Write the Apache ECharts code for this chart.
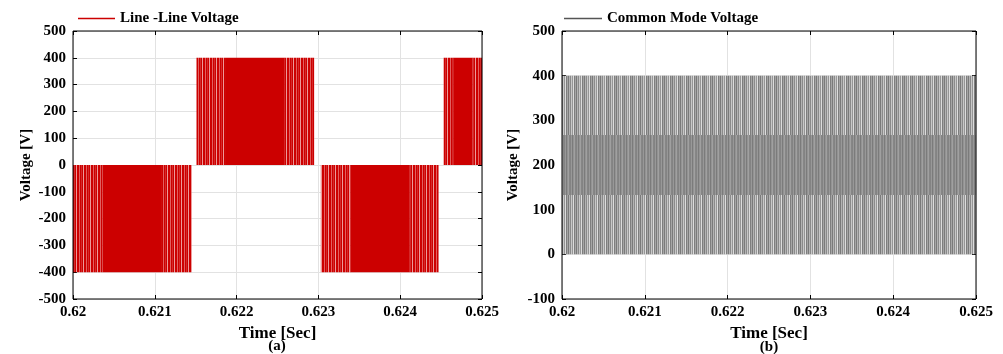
<!DOCTYPE html>
<html>
<head>
<meta charset="utf-8">
<script src="https://cdn.jsdelivr.net/npm/echarts@6/dist/echarts.min.js"></script>
<style>
  html, body { margin: 0; background: #fff; }
  #chart { width: 1003px; height: 354px; }
</style>
</head>
<body>
<div id="chart"></div>
<script>
// time axis [s]
const timeTicks = [0.62, 0.621, 0.622, 0.623, 0.624, 0.625];
const llTicks = [-500, -400, -300, -200, -100, 0, 100, 200, 300, 400, 500];
const cmTicks = [-100, 0, 100, 200, 300, 400, 500];

// (a) line-line voltage: PWM blocks, start / end time and level
const llStart = [0.62, 0.62151, 0.62303, 0.62453];
const llEnd = [0.62145, 0.62295, 0.62447, 0.625];
const llLevel = [-400, 400, -400, 400];

// (b) common mode voltage: switching levels over the whole window
const cmStart = 0.62;
const cmEnd = 0.625;
const cmLevels = [0, 133, 267, 400];

const FONT = '"Liberation Serif", "Times New Roman", serif';

// dense switching is drawn as a striped fill
function stripes(cols) {
  const c = document.createElement("canvas");
  c.width = cols.length;
  c.height = 2;
  const ctx = c.getContext("2d");
  cols.forEach((col, i) => {
    ctx.fillStyle = col;
    ctx.fillRect(i, 0, 1, 2);
  });
  return { image: c, repeat: "repeat" };
}
const redStripe = stripes(["#cc0000", "#cc0000", "#e26060", "#cc0000", "#d42a2a", "#cc0000", "#ec9a9a"]);
const grayLight = stripes(["#7a7a7a", "#b4b4b4", "#8a8a8a", "#c8c8c8", "#969696", "#dcdcdc", "#7e7e7e", "#a6a6a6"]);
const grayDark = stripes(["#838383", "#989898", "#7b7b7b", "#939393", "#a0a0a0", "#868686"]);

function rectOf(api, t0, t1, lo, hi) {
  const a = api.coord([t0, hi]);
  const b = api.coord([t1, lo]);
  return { x: a[0], y: a[1], width: b[0] - a[0], height: b[1] - a[1] };
}

function renderLL(params, api) {
  const v = api.value(2);
  const r = rectOf(api, api.value(0), api.value(1), Math.min(0, v), Math.max(0, v));
  const edge = r.width * 0.25;
  return {
    type: "group",
    children: [
      { type: "rect", shape: { x: r.x, y: r.y, width: edge, height: r.height }, style: { fill: redStripe } },
      { type: "rect", shape: { x: r.x + edge, y: r.y, width: r.width - 2 * edge, height: r.height }, style: { fill: "#cc0000" } },
      { type: "rect", shape: { x: r.x + r.width - edge, y: r.y, width: edge, height: r.height }, style: { fill: redStripe } },
    ],
  };
}

function renderCM(params, api) {
  const r = rectOf(api, api.value(0), api.value(1), api.value(2), api.value(3));
  return {
    type: "rect",
    shape: r,
    style: { fill: params.dataIndex === 1 ? grayDark : grayLight },
  };
}

const llData = llStart.map((s, i) => [s, llEnd[i], llLevel[i]]);
const cmData = cmLevels.slice(0, -1).map((lo, i) => [cmStart, cmEnd, lo, cmLevels[i + 1]]);

const labelStyle = { color: "#000", fontFamily: FONT, fontWeight: "bold", fontSize: 15 };
const tickStyle = { inside: true, length: 4, lineStyle: { color: "#000" } };
const noLine = { show: false, onZero: false };

function timeAxis(gridIndex) {
  return {
    type: "value",
    gridIndex,
    min: timeTicks[0],
    max: timeTicks[timeTicks.length - 1],
    interval: 0.001,
    name: "Time [Sec]",
    nameLocation: "middle",
    nameGap: 18,
    nameTextStyle: { color: "#000", fontFamily: FONT, fontWeight: "bold", fontSize: 17 },
    axisLine: noLine,
    axisTick: tickStyle,
    axisLabel: Object.assign({ margin: 6, formatter: (v) => String(+v.toFixed(3)) }, labelStyle),
    splitLine: { show: true, lineStyle: { color: "#e2e2e2", width: 1 } },
  };
}

function voltAxis(gridIndex, ticks, gap) {
  return {
    type: "value",
    gridIndex,
    min: ticks[0],
    max: ticks[ticks.length - 1],
    interval: 100,
    name: "Voltage [V]",
    nameLocation: "middle",
    nameGap: gap,
    nameTextStyle: { color: "#000", fontFamily: FONT, fontWeight: "bold", fontSize: 15 },
    axisLine: noLine,
    axisTick: tickStyle,
    axisLabel: Object.assign({ margin: 7 }, labelStyle),
    splitLine: { show: true, lineStyle: { color: "#e2e2e2", width: 1 } },
  };
}

// top / right sides: inward ticks only (the box is the grid border)
function frameX(gridIndex) {
  return {
    type: "value", gridIndex, position: "top",
    min: timeTicks[0], max: timeTicks[timeTicks.length - 1], interval: 0.001,
    axisLine: noLine, axisTick: tickStyle,
    axisLabel: { show: false }, splitLine: { show: false },
  };
}
function frameY(gridIndex, ticks) {
  return {
    type: "value", gridIndex, position: "right",
    min: ticks[0], max: ticks[ticks.length - 1], interval: 100,
    axisLine: noLine, axisTick: tickStyle,
    axisLabel: { show: false }, splitLine: { show: false },
  };
}

const legendText = { color: "#000", fontFamily: FONT, fontWeight: "bold", fontSize: 15 };

const chart = echarts.init(document.getElementById("chart"));

chart.setOption({
  animation: false,
  backgroundColor: "#fff",
  grid: [
    { left: 73, top: 31, width: 409, height: 268, show: true, z: 10, backgroundColor: "transparent", borderColor: "#000", borderWidth: 1 },
    { left: 562, top: 31, width: 414, height: 268, show: true, z: 10, backgroundColor: "transparent", borderColor: "#000", borderWidth: 1 },
  ],
  legend: [
    {
      data: ["Line -Line Voltage"],
      left: 78, top: 11, padding: 0,
      icon: "rect", itemWidth: 37, itemHeight: 1.5, itemGap: 4,
      textStyle: legendText,
    },
    {
      data: ["Common Mode Voltage"],
      left: 564, top: 11, padding: 0,
      icon: "rect", itemWidth: 38, itemHeight: 1.5, itemGap: 4,
      textStyle: legendText,
    },
  ],
  xAxis: [timeAxis(0), timeAxis(1), frameX(0), frameX(1)],
  yAxis: [voltAxis(0, llTicks, 39), voltAxis(1, cmTicks, 41), frameY(0, llTicks), frameY(1, cmTicks)],
  graphic: [
    { type: "text", x: 277, y: 346, style: { text: "(a)", align: "center", verticalAlign: "middle", font: "bold 15px " + FONT, fill: "#000" } },
    { type: "text", x: 769, y: 347, style: { text: "(b)", align: "center", verticalAlign: "middle", font: "bold 15px " + FONT, fill: "#000" } },
  ],
  series: [
    {
      name: "Line -Line Voltage",
      type: "custom",
      xAxisIndex: 0,
      yAxisIndex: 0,
      renderItem: renderLL,
      encode: { x: [0, 1], y: 2 },
      itemStyle: { color: "#cc0000" },
      data: llData,
      clip: true,
    },
    {
      name: "Common Mode Voltage",
      type: "custom",
      xAxisIndex: 1,
      yAxisIndex: 1,
      renderItem: renderCM,
      encode: { x: [0, 1], y: [2, 3] },
      itemStyle: { color: "#555" },
      data: cmData,
      clip: true,
    },
  ],
});

window.addEventListener("resize", () => {
  chart && chart.resize();
});
</script>
</body>
</html>
